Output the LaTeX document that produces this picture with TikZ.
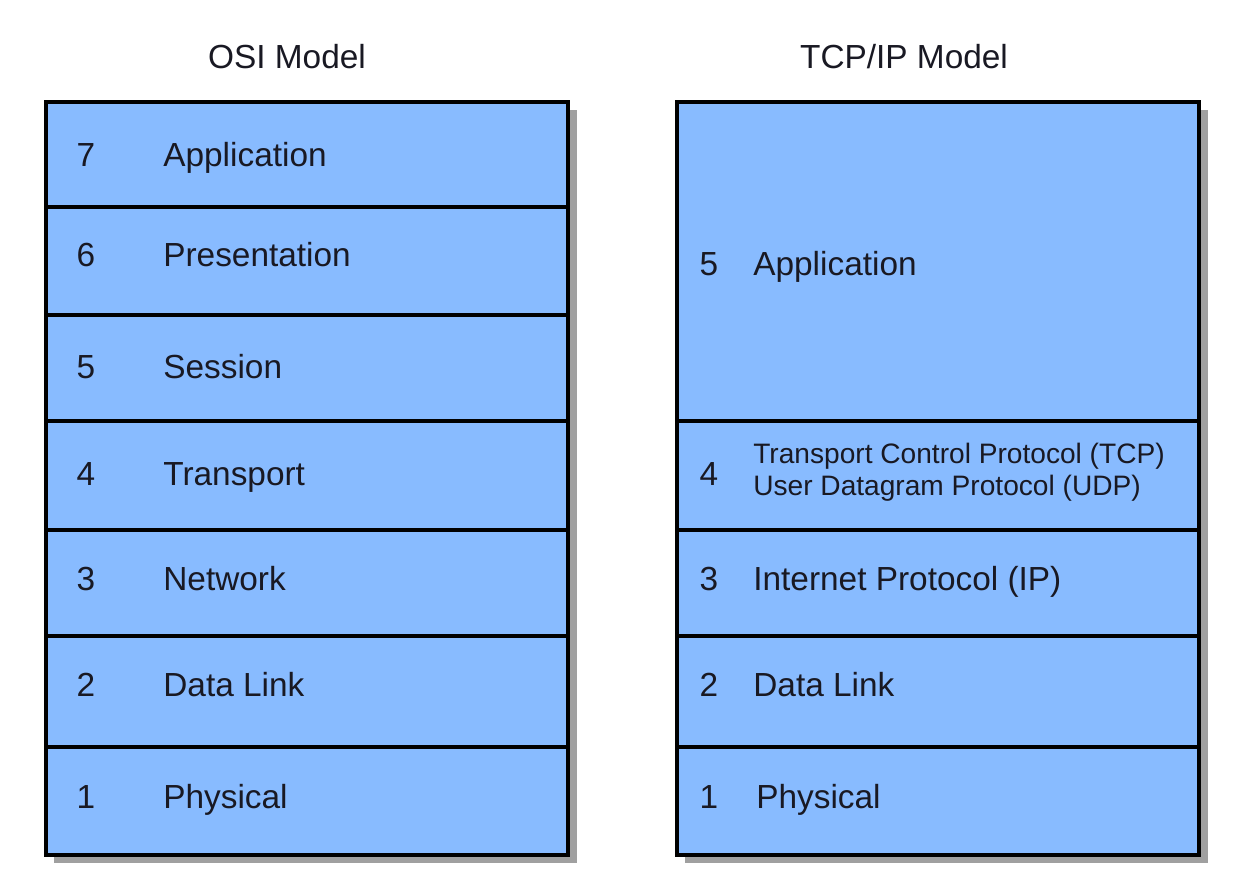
\documentclass[tikz,border=0pt]{standalone}
\usepackage{fontspec}
\setmainfont{Liberation Sans}
\usetikzlibrary{positioning}

\definecolor{layerblue}{RGB}{136,187,255}
\definecolor{layerink}{RGB}{25,25,35}
\definecolor{shadowgray}{RGB}{160,160,160}

\tikzset{
  layerbox/.style={draw=black, line width=1.8pt, fill=layerblue},
  boxshadow/.style={fill=shadowgray},
  layernum/.style={anchor=base, inner sep=0pt, text=layerink, font=\fontsize{19}{23}\selectfont},
  layername/.style={anchor=base west, inner sep=0pt, text=layerink, font=\fontsize{19}{23}\selectfont},
  smallname/.style={anchor=west, inner sep=0pt, align=left, text=layerink, font=\fontsize{16}{18}\selectfont},
  modeltitle/.style={anchor=base, text=layerink, font=\fontsize{19}{23}\selectfont},
}

\begin{document}
\begin{tikzpicture}[x=0.02cm, y=-0.02cm]
    \useasboundingbox (0,0) rectangle (1250,888);

    % titles
    \node[modeltitle] (osititle) at (287,69) {OSI Model};
    \node[modeltitle] (tcptitle) at (904,69) {TCP/IP Model};

    % shadows
    \fill[boxshadow] (54,110) rectangle (577,863);
    \fill[boxshadow] (685,110) rectangle (1208,863);

    % OSI layers
    \foreach \n/\top/\bot/\ty/\name in {7/102/207/155/Application, 6/207/315/255/Presentation,
        5/315/421/366/Session, 4/421/530/473/Transport, 3/530/636/578/Network,
        2/636/747/684/Data Link, 1/747/855/796/Physical} {
      \draw[layerbox] (46,\top) rectangle (568,\bot);
      \node[layernum] (osinum\n) at (86,\ty+12) {\n};
      \node[layername] (osiname\n) at (163,\ty+12) {\name};
    }

    % TCP/IP layers
    \foreach \n/\top/\bot/\ty/\name/\xn in {5/102/421/264/Application/753, 3/530/636/578/Internet Protocol (IP)/753,
        2/636/747/684/Data Link/753, 1/747/855/796/Physical/756} {
      \draw[layerbox] (677,\top) rectangle (1199,\bot);
      \node[layernum] (tcpnum\n) at (709,\ty+12) {\n};
      \node[layername] (tcpname\n) at (\xn,\ty+12) {\name};
    }
    \draw[layerbox] (677,421) rectangle (1199,530);
    \node[layernum] (tcpnum4) at (709,485) {4};
    \node[smallname] (tcpname4) at (753,472) {Transport Control Protocol (TCP)\\User Datagram Protocol (UDP)};

\end{tikzpicture}
\end{document}
